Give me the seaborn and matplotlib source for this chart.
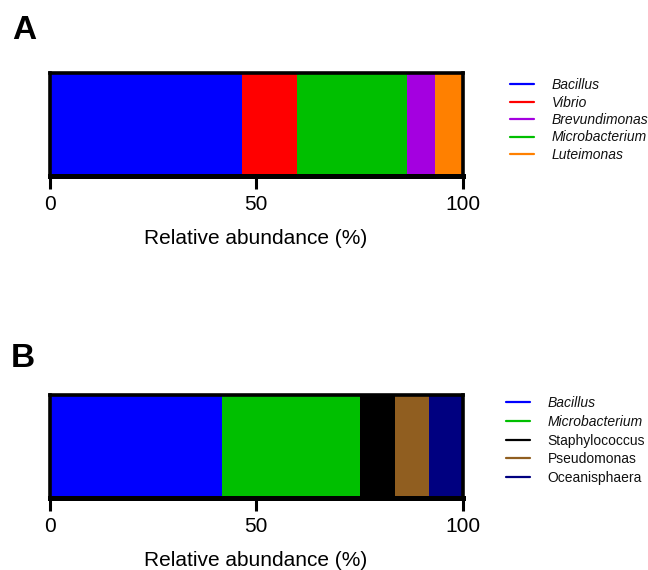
import matplotlib
matplotlib.use("Agg")
import matplotlib.pyplot as plt
import seaborn as sns
import pandas as pd
import numpy as np
from matplotlib.lines import Line2D

sns.set_style("white")
plt.rcParams['font.family'] = ['Liberation Sans', 'DejaVu Sans']
plt.rcParams['text.color'] = 'black'
plt.rcParams['axes.labelcolor'] = 'black'
plt.rcParams['xtick.color'] = 'black'

# panel A, in stacking order (left to right)
genera_a = ['Bacillus', 'Vibrio', 'Microbacterium', 'Brevundimonas', 'Luteimonas']
abund_a = [46.7, 13.3, 26.6, 6.7, 6.7]
colors_a = ['#0000FF', '#FF0000', '#00BF00', '#A400E0', '#FF8000']
legend_a = ['Bacillus', 'Vibrio', 'Brevundimonas', 'Microbacterium', 'Luteimonas']
italic_a = [True, True, True, True, True]

# panel B
genera_b = ['Bacillus', 'Microbacterium', 'Staphylococcus', 'Pseudomonas', 'Oceanisphaera']
abund_b = [41.8, 33.4, 8.3, 8.4, 8.1]
colors_b = ['#0000FF', '#00BF00', '#000000', '#905E20', '#000080']
legend_b = ['Bacillus', 'Microbacterium', 'Staphylococcus', 'Pseudomonas', 'Oceanisphaera']
italic_b = [True, True, False, False, False]

W, H = 648, 570
fig = plt.figure(figsize=(W / 100, H / 100), dpi=100)


def px_axes(left, right, top, bottom):
    return fig.add_axes([left / W, 1 - bottom / H, (right - left) / W, (bottom - top) / H])


def stacked(ax, genera, abund, colors, legend_order, italic, leg_x, leg_y, spacing):
    df = pd.DataFrame({'genus': genera, 'value': abund, 'color': colors})
    df['cum'] = df['value'].cumsum()
    # draw the cumulative bars from the longest one down so each shows its own part
    for _, row in df[::-1].iterrows():
        sns.barplot(x=[row['cum']], y=['s'], color=row['color'], width=1.0,
                    saturation=1, edgecolor='none', linewidth=0, ax=ax)
    ax.set_xlim(0, 100)
    ax.set_ylim(0.5, -0.5)
    ax.set_xticks([0, 50, 100])
    ax.set_yticks([])
    ax.set_ylabel('')
    ax.set_xlabel('Relative abundance (%)', fontsize=15, labelpad=11, color='black')
    ax.tick_params(axis='x', bottom=True, direction='out', length=9.5, width=2.2,
                   pad=4, labelsize=15, color='black', labelcolor='black')
    for s in ax.spines.values():
        s.set_visible(True)
        s.set_color('black')
        s.set_linewidth(2.6)
    ax.spines['bottom'].set_linewidth(3.6)

    cmap = dict(zip(genera, colors))
    handles = [Line2D([0], [0], color=cmap[g], lw=1.6) for g in legend_order]
    leg = fig.legend(handles, legend_order, loc='center left',
                     bbox_to_anchor=(leg_x / W, 1 - leg_y / H), frameon=False,
                     fontsize=10, handlelength=1.7, handletextpad=1.3,
                     labelspacing=spacing, borderpad=0, borderaxespad=0)
    for t, it in zip(leg.get_texts(), italic):
        t.set_color('#111111')
        if it:
            t.set_style('italic')


ax_a = px_axes(49.5, 462.7, 73, 176)
stacked(ax_a, genera_a, abund_a, colors_a, legend_a, italic_a, 510, 120, 0.25)

ax_b = px_axes(49.5, 462.7, 395, 498)
stacked(ax_b, genera_b, abund_b, colors_b, legend_b, italic_b, 506, 440.5, 0.34)

fig.text(12 / W, 1 - 39 / H, 'A', fontsize=24, fontweight='bold', va='baseline')
fig.text(11 / W, 1 - 367 / H, 'B', fontsize=24, fontweight='bold', va='baseline')

fig.savefig('out.png', dpi=100)
